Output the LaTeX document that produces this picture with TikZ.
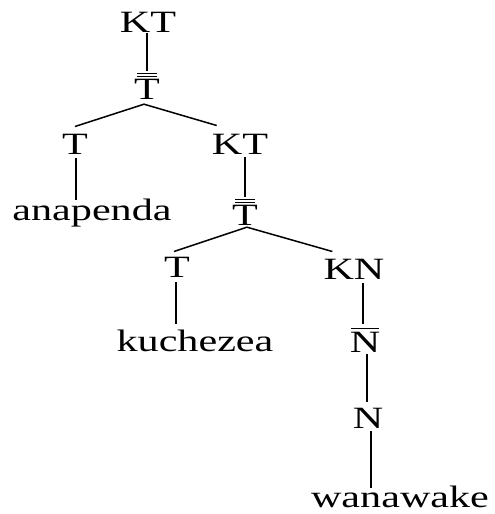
\documentclass[tikz,border=0pt]{standalone}
\usepackage{fontspec}
\newfontfamily\widefont{Liberation Serif}[FakeStretch=1.36]
\usetikzlibrary{calc}
\begin{document}
\begin{tikzpicture}[x=1pt,y=-1pt,
  lbl/.style={inner sep=0pt, anchor=base, font=\widefont\fontsize{31}{32}\selectfont},
  edge/.style={line width=1.5pt},
  barline/.style={line width=1.2pt}]
\useasboundingbox (0,0) rectangle (495,514);
% nodes (anchored at text baseline)
\node[lbl] (kt1) at (148,32) {KT};
\node[lbl] (tb1) at (147,99) {T};
\node[lbl] (t1)  at (75,154) {T};
\node[lbl] (kt2) at (240,154) {KT};
\node[lbl] (ana) at (92,220) {anapenda};
\node[lbl] (tb2) at (245,225) {T};
\node[lbl] (t2)  at (177,277) {T};
\node[lbl] (kn)  at (354,279) {KN};
\node[lbl] (kuc) at (195,351) {kuchezea};
\node[lbl] (nb)  at (365,352) {N};
\node[lbl] (n)   at (368,428) {N};
\node[lbl] (wan) at (400,507) {wanawake};
% bars
\draw[barline] ($(tb1.north west)+(3,-5)$) -- ($(tb1.north east)+(-3,-5)$);
\draw[barline] ($(tb1.north west)+(3,-1.8)$) -- ($(tb1.north east)+(-3,-1.8)$);
\draw[barline] ($(tb2.north west)+(3,-5)$) -- ($(tb2.north east)+(-3,-5)$);
\draw[barline] ($(tb2.north west)+(3,-1.8)$) -- ($(tb2.north east)+(-3,-1.8)$);
\draw[barline] ($(nb.north west)+(1.5,-3)$) -- ($(nb.north east)+(-1.5,-3)$);
% connectors
\draw[edge] ($(kt1.south)+(-1,1)$) -- ($(tb1.north)+(0,-8)$);
\draw[edge] ($(tb1.south)+(-3,5)$) -- ($(t1.north)+(0,-7)$);
\draw[edge] ($(tb1.south)+(-3,5)$) -- ($(kt2.north west)+(5,-8)$);
\draw[edge] ($(t1.south)+(1,4)$) -- ($(ana.north -| t1.south)+(1,2)$);
\draw[edge] ($(kt2.south)+(5,3)$) -- ($(tb2.north)+(0,-8)$);
\draw[edge] ($(tb2.south)+(2,2)$) -- ($(t2.north)+(-3,-5)$);
\draw[edge] ($(tb2.south)+(2,2)$) -- ($(kn.north west)+(9,-7)$);
\draw[edge] ($(t2.south)+(-1,5)$) -- ($(kuc.north -| t2.south)+(-1,-5)$);
\draw[edge] ($(kn.south)+(9,4)$) -- ($(nb.north)+(-2,-8)$);
\draw[edge] ($(nb.south)+(2,2)$) -- ($(n.north)+(-1,-6)$);
\draw[edge] ($(n.south)+(3,3)$) -- ($(wan.north -| n.south)+(3,3)$);
\end{tikzpicture}
\end{document}
